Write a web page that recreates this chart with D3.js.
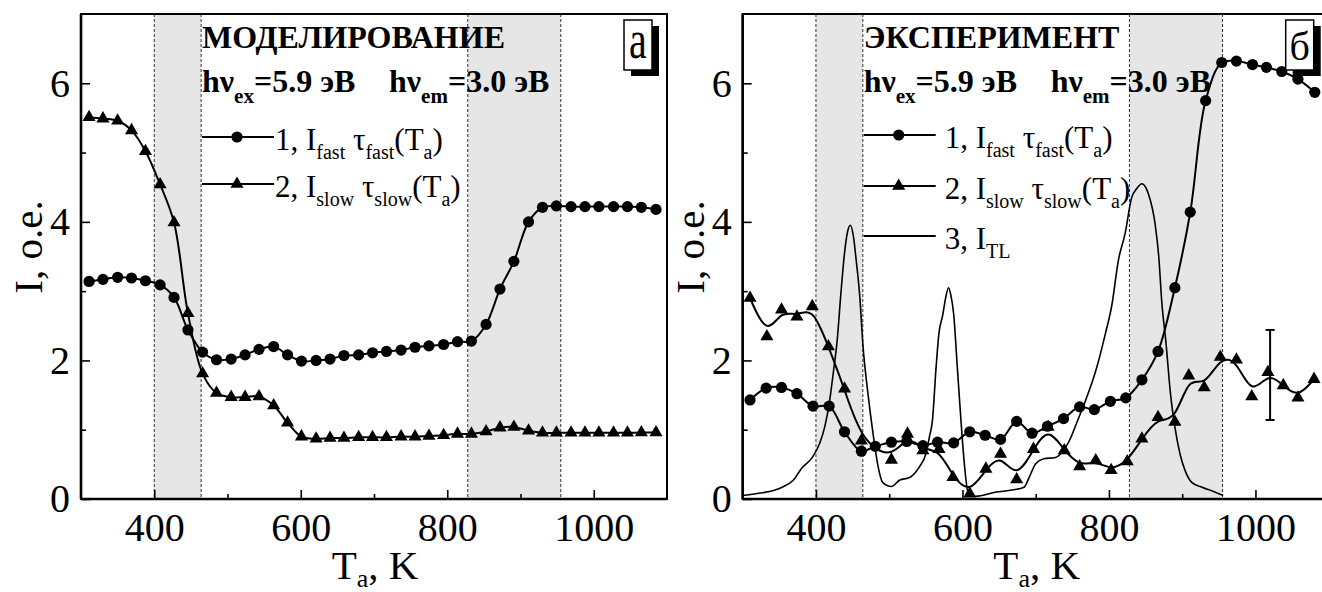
<!DOCTYPE html>
<html lang="ru">
  <head>
    <meta charset="UTF-8" />
    <title>I(Ta)</title>
    <script src="https://d3js.org/d3.v7.min.js"></script>
    <style>
      body { margin: 0; background: #fff; }
      svg { display: block; font-family: 'Liberation Serif', 'Times New Roman', serif; }
      text { white-space: pre; }
    </style>
  </head>
  <body>
    <svg width="1322" height="592"></svg>
    <script>
      // левая панель (моделирование)
      var tempL = [311, 330, 350, 369, 388, 408, 427, 446, 466, 485, 505, 524, 543, 563, 582, 601, 621, 640, 659, 679, 698, 717, 737, 756, 775, 795, 814, 833, 853, 872, 891, 911, 930, 949, 969, 988, 1007, 1027, 1046, 1065, 1085]
      var fastL = [3.14, 3.17, 3.20, 3.19, 3.15, 3.09, 2.91, 2.44, 2.12, 2.01, 2.02, 2.08, 2.16, 2.20, 2.08, 1.99, 2.00, 2.02, 2.07, 2.08, 2.11, 2.13, 2.15, 2.19, 2.21, 2.23, 2.27, 2.28, 2.52, 3.03, 3.43, 4.00, 4.21, 4.23, 4.22, 4.22, 4.22, 4.22, 4.22, 4.21, 4.18]
      var slowL = [5.51, 5.49, 5.46, 5.32, 5.02, 4.54, 3.99, 2.68, 1.81, 1.53, 1.47, 1.47, 1.48, 1.35, 1.10, 0.90, 0.87, 0.88, 0.88, 0.89, 0.89, 0.89, 0.90, 0.90, 0.91, 0.92, 0.94, 0.94, 0.975, 1.03, 1.04, 0.985, 0.955, 0.955, 0.955, 0.955, 0.955, 0.955, 0.955, 0.96, 0.96]

      // правая панель (эксперимент)
      var tempFastR = [310, 332, 353, 374, 396, 418, 439, 462, 481, 503, 524, 546, 566, 588, 610, 631, 652, 674, 695, 716, 738, 760, 780, 802, 823, 845, 867, 890, 911, 932, 954, 974, 996, 1015, 1036, 1058, 1081]
      var fastR = [1.43, 1.60, 1.61, 1.52, 1.34, 1.34, 0.97, 0.69, 0.76, 0.82, 0.83, 0.77, 0.82, 0.81, 0.97, 0.92, 0.86, 1.12, 0.95, 1.05, 1.16, 1.33, 1.29, 1.41, 1.46, 1.72, 2.13, 3.05, 4.14, 5.75, 6.30, 6.32, 6.27, 6.23, 6.17, 6.06, 5.87]
      var tempSlowR = [310, 333, 353, 374, 395, 417, 439, 462, 503, 525, 546, 568, 587, 610, 632, 652, 674, 697, 717, 739, 760, 782, 803, 825, 845, 867, 890, 909, 930, 952, 974, 995, 1017, 1038, 1058, 1080]
      var slowR = [2.90, 2.345, 2.73, 2.63, 2.78, 2.20, 1.59, 0.84, 0.565, 0.94, 0.70, 0.72, 0.315, 0.075, 0.435, 0.65, 0.28, 0.72, 1.04, 0.70, 0.47, 0.555, 0.415, 0.54, 0.87, 1.18, 1.11, 1.78, 1.61, 2.05, 2.01, 1.48, 1.83, 1.64, 1.46, 1.73]
      var tlT = [300, 327, 341, 354, 369, 381, 395, 405, 412, 418, 424, 429, 434, 439, 443, 447, 451, 455, 460, 464, 471, 478, 485, 491, 503, 514, 528, 541, 550, 555, 559, 564, 568, 573, 577, 581, 584, 588, 593, 598, 603, 608, 618, 646, 668, 684, 691, 700, 711, 727, 736, 745, 759, 768, 782, 795, 804, 813, 822, 831, 838, 845, 850, 854, 863, 868, 872, 878, 884, 890, 897, 904, 913, 927, 940, 956]
      var tlV = [0.05, 0.09, 0.12, 0.17, 0.27, 0.45, 0.60, 0.80, 1.04, 1.37, 1.85, 2.29, 2.96, 3.55, 3.85, 3.95, 3.80, 3.44, 2.90, 2.24, 1.52, 0.94, 0.46, 0.24, 0.18, 0.27, 0.31, 0.46, 0.65, 0.90, 1.13, 1.90, 2.40, 2.65, 2.90, 3.05, 2.95, 2.67, 1.90, 1.13, 0.46, 0.08, 0.04, 0.10, 0.13, 0.17, 0.31, 0.51, 0.58, 0.60, 0.675, 0.82, 1.18, 1.42, 1.85, 2.38, 2.80, 3.45, 3.83, 4.35, 4.48, 4.55, 4.50, 4.40, 3.97, 3.50, 2.86, 2.24, 1.52, 1.04, 0.65, 0.41, 0.24, 0.17, 0.12, 0.05]
      var errT = [1020]
      var errLo = [1.14]
      var errHi = [2.44]

      var bands = [[400, 464], [828, 955]]
      var majorX = [400, 600, 800, 1000]
      var minorX = [500, 700, 900]
      var majorY = [0, 2, 4, 6]
      var minorY = [1, 3, 5]

      var svg = d3.select('svg')
      var plotTop = 14
      var plotBottom = 499

      function zip(a, b) {
        return a.map(function(d, i) { return [d, b[i]] })
      }

      // текст с нижними индексами: [строка, сдвиг, размер]
      function rich(g, x, y, parts, size, weight, anchor) {
        var t = g.append('text')
          .attr('x', x).attr('y', y)
          .attr('font-size', size)
          .attr('font-weight', weight || 'normal')
          .attr('text-anchor', anchor || 'start')
        var shift = 0
        parts.forEach(function(p) {
          var off = p[1] || 0
          var s = t.append('tspan').text(p[0]).attr('dy', off - shift)
          if (p[2]) s.attr('font-size', p[2])
          shift = off
        })
        return t
      }

      function panel(left, right, cfg) {
        var x = d3.scaleLinear().domain([300, 1100]).range([left, right])
        var y = d3.scaleLinear().domain([0, 7]).range([plotBottom, plotTop])
        var g = svg.append('g')

        bands.forEach(function(b) {
          g.append('rect')
            .attr('x', x(b[0])).attr('y', plotTop)
            .attr('width', x(b[1]) - x(b[0])).attr('height', plotBottom - plotTop)
            .attr('fill', '#e6e6e6')
          b.forEach(function(t) {
            g.append('line')
              .attr('x1', x(t)).attr('x2', x(t))
              .attr('y1', plotTop).attr('y2', plotBottom)
              .attr('stroke', '#333').attr('stroke-width', 1)
              .attr('stroke-dasharray', '3,2')
          })
        })

        var line = d3.line().x(function(d) { return x(d[0]) }).y(function(d) { return y(d[1]) })

        if (cfg.tl) {
          g.append('path')
            .attr('d', line.curve(d3.curveMonotoneX)(cfg.tl))
            .attr('fill', 'none').attr('stroke', '#000').attr('stroke-width', 1.6)
        }
        g.append('path')
          .attr('d', line.curve(cfg.slowCurve)(cfg.slow))
          .attr('fill', 'none').attr('stroke', '#000').attr('stroke-width', 2)
        g.append('path')
          .attr('d', line.curve(d3.curveCatmullRom)(cfg.fast))
          .attr('fill', 'none').attr('stroke', '#000').attr('stroke-width', 2)

        g.selectAll('.tri')
          .data(cfg.slow)
          .enter()
          .append('path')
          .attr('d', d3.symbol(d3.symbolTriangle, 74))
          .attr('transform', function(d) { return 'translate(' + x(d[0]) + ',' + y(d[1]) + ')' })
          .attr('fill', '#000')
        g.selectAll('.dot')
          .data(cfg.fast)
          .enter()
          .append('circle')
          .attr('cx', function(d) { return x(d[0]) })
          .attr('cy', function(d) { return y(d[1]) })
          .attr('r', 5.6)
          .attr('fill', '#000')

        if (cfg.err) {
          cfg.err.forEach(function(e) {
            var ex = x(e[0])
            g.append('line').attr('x1', ex).attr('x2', ex).attr('y1', y(e[1])).attr('y2', y(e[2]))
              .attr('stroke', '#000').attr('stroke-width', 2)
            ;[e[1], e[2]].forEach(function(v) {
              g.append('line').attr('x1', ex - 4.5).attr('x2', ex + 4.5).attr('y1', y(v)).attr('y2', y(v))
                .attr('stroke', '#000').attr('stroke-width', 2)
            })
          })
        }

        // оси
        function style(a) {
          a.attr('font-family', null).attr('font-size', 40)
          a.select('.domain').remove()
          a.selectAll('line').attr('stroke-width', 1.6)
          a.selectAll('text').attr('fill', '#000')
        }
        g.append('g').attr('transform', 'translate(0,' + plotBottom + ')')
          .call(d3.axisBottom(x).tickValues(majorX).tickSize(-9).tickPadding(14).tickFormat(d3.format('d')))
          .call(style)
        g.append('g').attr('transform', 'translate(0,' + plotBottom + ')')
          .call(d3.axisBottom(x).tickValues(minorX).tickSize(-5).tickFormat(''))
          .call(style)
        g.append('g').attr('transform', 'translate(' + left + ',0)')
          .call(d3.axisLeft(y).tickValues(majorY).tickSize(-9).tickPadding(11).tickFormat(d3.format('d')))
          .call(style)
        g.append('g').attr('transform', 'translate(' + left + ',0)')
          .call(d3.axisLeft(y).tickValues(minorY).tickSize(-5).tickFormat(''))
          .call(style)

        g.append('rect')
          .attr('x', left).attr('y', plotTop)
          .attr('width', right - left).attr('height', plotBottom - plotTop)
          .attr('fill', 'none').attr('stroke', '#000').attr('stroke-width', 2)
        g.append('line').attr('x1', left).attr('x2', right).attr('y1', plotBottom).attr('y2', plotBottom)
          .attr('stroke', '#000').attr('stroke-width', 2.6)
        g.append('line').attr('x1', left).attr('x2', left).attr('y1', plotTop).attr('y2', plotBottom)
          .attr('stroke', '#000').attr('stroke-width', 2.6)

        // подписи осей
        g.append('text')
          .attr('transform', 'translate(' + (left - 39) + ',247) rotate(-90)')
          .attr('text-anchor', 'middle').attr('font-size', 41)
          .text('I, o.e.')
        rich(g, left + 294, 579, [['T'], ['a', 8, 26], [', K']], 41, 'normal', 'middle')

        // легенда
        var lx = left + 121
        rich(g, lx, 48, [[cfg.title]], 32, 'bold')
        rich(g, lx, 92, [['hν'], ['ex', 11, 21], ['=5.9 эВ']], 32, 'bold')
        rich(g, lx + 187, 92, [['hν'], ['em', 11, 21], ['=3.0 эВ']], 32, 'bold')

        cfg.rows.forEach(function(r) {
          g.append('line').attr('x1', lx).attr('x2', lx + 72).attr('y1', r.y).attr('y2', r.y)
            .attr('stroke', '#000').attr('stroke-width', 2)
          if (r.mark === 'dot') {
            g.append('circle').attr('cx', lx + 35).attr('cy', r.y).attr('r', 5.6).attr('fill', '#000')
          } else if (r.mark === 'tri') {
            g.append('path').attr('d', d3.symbol(d3.symbolTriangle, 74))
              .attr('transform', 'translate(' + (lx + 35) + ',' + r.y + ')').attr('fill', '#000')
          }
          rich(g, lx + 73 + cfg.gap, r.y + 13, r.parts, 31)
        })

        // метка панели
        var bx = right - 43
        g.append('rect').attr('x', bx + 7).attr('y', 26).attr('width', 28).attr('height', 50).attr('fill', '#000')
        g.append('rect').attr('x', bx).attr('y', 20).attr('width', 28).attr('height', 50)
          .attr('fill', '#fff').attr('stroke', '#000').attr('stroke-width', 1.5)
        g.append('text')
          .attr('transform', 'translate(' + (bx + 14) + ',' + cfg.labelY + ') scale(1,' + cfg.labelScale + ')')
          .attr('text-anchor', 'middle').attr('font-size', 40)
          .text(cfg.label)
      }

      var row1 = [['1, I'], ['fast', 9, 20], [' τ'], ['fast', 9, 20], ['(T'], ['a', 9, 20], [')']]
      var row2 = [['2, I'], ['slow', 9, 20], [' τ'], ['slow', 9, 20], ['(T'], ['a', 9, 20], [')']]
      var row3 = [['3, I'], ['TL', 9, 20]]

      panel(81, 667, {
        title: 'МОДЕЛИРОВАНИЕ',
        fast: zip(tempL, fastL),
        slow: zip(tempL, slowL),
        slowCurve: d3.curveCatmullRom,
        rows: [{ y: 137, mark: 'dot', parts: row1 }, { y: 184, mark: 'tri', parts: row2 }],
        gap: 0,
        label: 'а',
        labelY: 58,
        labelScale: 1.35
      })

      panel(742.7, 1328.7, {
        title: 'ЭКСПЕРИМЕНТ',
        fast: zip(tempFastR, fastR),
        slow: zip(tempSlowR, slowR),
        slowCurve: d3.curveBasis,
        tl: zip(tlT, tlV),
        err: errT.map(function(t, i) { return [t, errLo[i], errHi[i]] }),
        rows: [{ y: 135, mark: 'dot', parts: row1 }, { y: 186, mark: 'tri', parts: row2 }, { y: 236, mark: null, parts: row3 }],
        gap: 8,
        label: 'б',
        labelY: 60,
        labelScale: 1
      })
    </script>
  </body>
</html>
